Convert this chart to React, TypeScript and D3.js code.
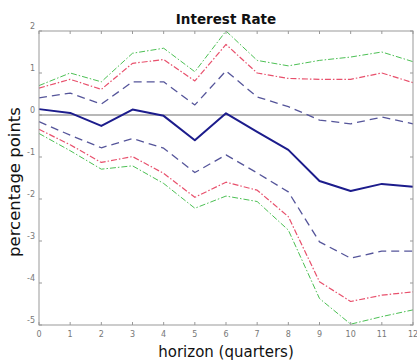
import React from 'react';
import * as d3 from 'd3';

// horizon in quarters
const horizons = [0, 1, 2, 3, 4, 5, 6, 7, 8, 9, 10, 11, 12];

// median response (solid)
const median = [0.14, 0.05, -0.26, 0.13, -0.02, -0.6, 0.04, -0.4, -0.83, -1.57, -1.81, -1.64, -1.71];
// 68% band (blue dashed)
const upper68 = [0.41, 0.52, 0.26, 0.79, 0.79, 0.24, 1.05, 0.43, 0.2, -0.12, -0.21, -0.05, -0.21];
const lower68 = [-0.16, -0.48, -0.78, -0.56, -0.79, -1.37, -0.95, -1.38, -1.83, -3.02, -3.41, -3.24, -3.24];
// 90% band (red dash-dot)
const upper90 = [0.64, 0.85, 0.61, 1.23, 1.32, 0.81, 1.68, 1.0, 0.87, 0.85, 0.85, 1.0, 0.77];
const lower90 = [-0.34, -0.71, -1.13, -0.99, -1.39, -1.96, -1.6, -1.79, -2.42, -3.97, -4.44, -4.29, -4.21];
// 95% band (green dash-dot)
const upper95 = [0.7, 1.0, 0.79, 1.47, 1.59, 1.03, 2.0, 1.3, 1.17, 1.3, 1.38, 1.5, 1.27];
const lower95 = [-0.44, -0.85, -1.29, -1.21, -1.63, -2.22, -1.93, -2.06, -2.74, -4.37, -4.98, -4.8, -4.64];

const yTicks = [2, 1, 0, -1, -2, -3, -4, -5];

const W = 417;
const H = 361;
const left = 39;
const right = 413;
const top = 31;
const bottom = 325;

export default function App() {
  const x = d3.scaleLinear().domain([0, 12]).range([left, right]);
  const y = d3.scaleLinear().domain([-5, 2]).range([bottom, top]);
  const line = d3
    .line<number>()
    .x((_, i) => x(horizons[i]))
    .y((d) => y(d));

  const series = [
    { data: upper95, color: '#4cc054', width: 1, dash: '6,2,1.5,2' },
    { data: lower95, color: '#4cc054', width: 1, dash: '6,2,1.5,2' },
    { data: upper90, color: '#e8506c', width: 1.2, dash: '6,2,1.5,2' },
    { data: lower90, color: '#e8506c', width: 1.2, dash: '6,2,1.5,2' },
    { data: upper68, color: '#55559a', width: 1.3, dash: '8,5' },
    { data: lower68, color: '#55559a', width: 1.3, dash: '8,5' },
    { data: median, color: '#1c1c8c', width: 2, dash: undefined },
  ];

  const font = 'DejaVu Sans, sans-serif';

  return (
    <svg
      width={W}
      height={H}
      style={{ position: 'absolute', left: 0, top: 0, background: '#fff' }}
    >
      {/* zero line */}
      <line x1={left} x2={right} y1={y(0)} y2={y(0)} stroke="#a0a0a0" strokeWidth={1.3} />

      {series.map((s, i) => (
        <path
          key={i}
          d={line(s.data) || ''}
          fill="none"
          stroke={s.color}
          strokeWidth={s.width}
          strokeDasharray={s.dash}
          strokeLinejoin="round"
        />
      ))}

      {/* box */}
      <rect x={left} y={top} width={right - left} height={bottom - top} fill="none" stroke="#999" strokeWidth={1} />

      {/* x ticks */}
      {horizons.map((h) => (
        <g key={'x' + h}>
          <line x1={x(h)} x2={x(h)} y1={bottom} y2={bottom - 3} stroke="#999" />
          <line x1={x(h)} x2={x(h)} y1={top} y2={top + 3} stroke="#999" />
          <text x={x(h)} y={337} textAnchor="middle" fontSize={8} fill="#777" fontFamily={font}>
            {h}
          </text>
        </g>
      ))}

      {/* y ticks */}
      {yTicks.map((t) => (
        <g key={'y' + t}>
          <line x1={left} x2={left + 3} y1={y(t)} y2={y(t)} stroke="#999" />
          <line x1={right} x2={right - 3} y1={y(t)} y2={y(t)} stroke="#999" />
          <text x={left - 4} y={y(t) - 2} textAnchor="end" fontSize={8} fill="#777" fontFamily={font}>
            {t}
          </text>
        </g>
      ))}

      <text x={226} y={24} textAnchor="middle" fontSize={13.5} fontWeight="bold" fill="#111" fontFamily={font}>
        Interest Rate
      </text>
      <text x={226} y={357} textAnchor="middle" fontSize={15} fill="#111" fontFamily={font}>
        horizon (quarters)
      </text>
      <text
        transform={`translate(20,182) rotate(-90)`}
        textAnchor="middle"
        fontSize={16.5}
        fill="#111"
        fontFamily={font}
      >
        percentage points
      </text>
    </svg>
  );
}
